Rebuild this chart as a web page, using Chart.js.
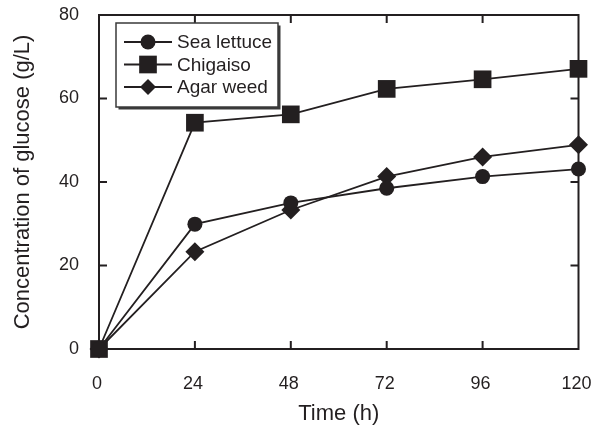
<!DOCTYPE html>
<html>
<head>
<meta charset="utf-8">
<script src="https://cdn.jsdelivr.net/npm/chart.js@4.4.0/dist/chart.umd.min.js"></script>
<style>
  html, body { margin: 0; padding: 0; background: #ffffff; }
  #wrap { width: 591px; height: 427px; }
</style>
</head>
<body>
<div id="wrap"><canvas id="c" width="591" height="427"></canvas></div>
<script>
// ---- data ----
const timeHours = [0, 24, 48, 72, 96, 120];
const seaLettuce = [0, 29.9, 35.0, 38.5, 41.3, 43.1];
const chigaiso = [0, 54.2, 56.2, 62.3, 64.6, 67.1];
const agarWeed = [0, 23.3, 33.3, 41.3, 46.0, 48.9];
const seriesNames = ['Sea lettuce', 'Chigaiso', 'Agar weed'];
const xTicks = [0, 24, 48, 72, 96, 120];
const yTicks = [0, 20, 40, 60, 80];
const xTitle = 'Time (h)';
const yTitle = 'Concentration of glucose (g/L)';

const INK = '#231f20';
const FONT = "'Liberation Sans', Arial, Helvetica, sans-serif";

function pts(ys) { return timeHours.map((t, i) => ({ x: t, y: ys[i] })); }

const styles = [
  { pointStyle: 'circle', pointRadius: 7.5 },
  { pointStyle: 'rect', pointRadius: 12.5 },
  { pointStyle: 'rectRot', pointRadius: 9.5 }
];
const seriesData = [seaLettuce, chigaiso, agarWeed];

const datasets = seriesData.map((ys, i) => ({
  label: seriesNames[i],
  data: pts(ys),
  borderColor: INK,
  backgroundColor: INK,
  pointBackgroundColor: INK,
  pointBorderColor: INK,
  pointBorderWidth: 0,
  borderWidth: 1.8,
  pointStyle: styles[i].pointStyle,
  pointRadius: styles[i].pointRadius,
  tension: 0,
  clip: false
}));

function drawMarker(ctx, style, r, x, y) {
  ctx.beginPath();
  if (style === 'circle') {
    ctx.arc(x, y, r, 0, Math.PI * 2);
  } else if (style === 'rect') {
    const s = Math.SQRT1_2 * r;
    ctx.rect(x - s, y - s, 2 * s, 2 * s);
  } else {
    ctx.moveTo(x, y - r); ctx.lineTo(x + r, y); ctx.lineTo(x, y + r); ctx.lineTo(x - r, y); ctx.closePath();
  }
  ctx.fill();
}

const framePlugin = {
  id: 'frame',
  beforeDatasetsDraw(chart) {
    const { ctx, chartArea: a, scales } = chart;
    ctx.save();
    ctx.strokeStyle = INK;
    ctx.lineWidth = 2;
    ctx.strokeRect(a.left, a.top, a.right - a.left, a.bottom - a.top);
    const L = 8;
    ctx.beginPath();
    xTicks.forEach(v => {
      if (v === xTicks[0] || v === xTicks[xTicks.length - 1]) return;
      const px = scales.x.getPixelForValue(v);
      ctx.moveTo(px, a.bottom); ctx.lineTo(px, a.bottom - L);
      ctx.moveTo(px, a.top); ctx.lineTo(px, a.top + L);
    });
    yTicks.forEach(v => {
      if (v === yTicks[0] || v === yTicks[yTicks.length - 1]) return;
      const py = scales.y.getPixelForValue(v);
      ctx.moveTo(a.left, py); ctx.lineTo(a.left + L, py);
      ctx.moveTo(a.right, py); ctx.lineTo(a.right - L, py);
    });
    ctx.stroke();
    ctx.restore();
  }
};

const legendPlugin = {
  id: 'boxLegend',
  afterDraw(chart) {
    const { ctx } = chart;
    const bx = 116, by = 23, bw = 162, bh = 84;
    ctx.save();
    // shadow
    ctx.fillStyle = '#3a3a3a';
    ctx.fillRect(bx + 2.5, by + 2.5, bw, bh);
    ctx.fillStyle = '#ffffff';
    ctx.fillRect(bx, by, bw, bh);
    ctx.strokeStyle = '#3a3a3a';
    ctx.lineWidth = 1.5;
    ctx.strokeRect(bx, by, bw, bh);
    const rows = [42, 64.5, 87];
    chart.data.datasets.forEach((ds, i) => {
      const y = rows[i];
      ctx.strokeStyle = INK;
      ctx.lineWidth = 1.8;
      ctx.beginPath();
      ctx.moveTo(124, y); ctx.lineTo(172, y);
      ctx.stroke();
      ctx.fillStyle = INK;
      const r = ds.pointStyle === 'rectRot' ? 8 : ds.pointRadius;
      drawMarker(ctx, ds.pointStyle, r, 148, y);
      ctx.font = '19px ' + FONT;
      ctx.textAlign = 'left';
      ctx.textBaseline = 'middle';
      ctx.fillText(ds.label, 177, y + 1);
    });
    ctx.restore();
  }
};

new Chart(document.getElementById('c'), {
  type: 'line',
  data: { datasets },
  plugins: [framePlugin, legendPlugin],
  options: {
    responsive: false,
    animation: false,
    events: [],
    layout: { padding: { left: 0, right: 12, top: 15, bottom: 0 } },
    plugins: { legend: { display: false }, tooltip: { enabled: false } },
    scales: {
      x: {
        type: 'linear',
        min: 0, max: 120,
        afterBuildTicks: s => { s.ticks = xTicks.map(v => ({ value: v })); },
        afterFit: s => { s.paddingLeft = 0; s.paddingRight = 0; s.height = 78; },
        grid: { display: false, drawTicks: false },
        border: { display: false },
        ticks: { color: INK, font: { family: FONT, size: 18 }, padding: 24, labelOffset: -2, maxRotation: 0, autoSkip: false },
        title: { display: true, text: xTitle, color: INK, font: { family: FONT, size: 22 }, padding: { top: 6, bottom: 0 } }
      },
      y: {
        type: 'linear',
        min: 0, max: 80,
        afterBuildTicks: s => { s.ticks = yTicks.map(v => ({ value: v })); },
        afterFit: s => { s.width = 99; s.paddingTop = 0; s.paddingBottom = 0; },
        grid: { display: false, drawTicks: false },
        border: { display: false },
        ticks: { color: INK, font: { family: FONT, size: 18 }, padding: 20 },
        title: { display: true, text: yTitle, color: INK, font: { family: FONT, size: 22 }, padding: { top: 10, bottom: 0 } }
      }
    }
  }
});
</script>
</body>
</html>
